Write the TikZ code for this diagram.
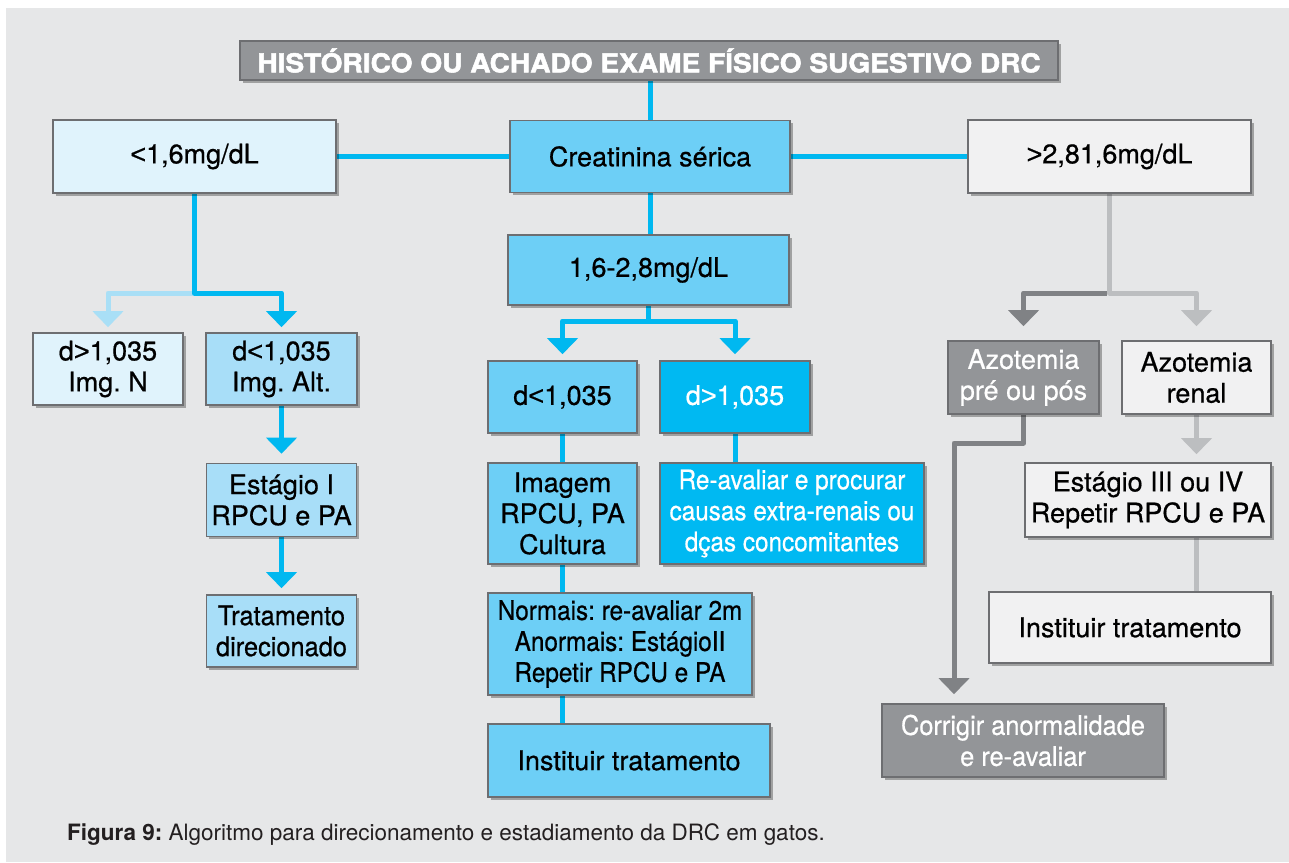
\documentclass[tikz,border=0pt]{standalone}
\usepackage{fontspec}
\setmainfont{TeX Gyre Heros}[FakeBold=0.6]
\newfontfamily\narrowA[FakeStretch=0.9,FakeBold=0.6]{TeX Gyre Heros}
\newfontfamily\narrowB[FakeStretch=0.94,FakeBold=0.6]{TeX Gyre Heros}
\newfontfamily\titlef[FakeStretch=1.08,BoldFeatures={FakeBold=2}]{TeX Gyre Heros}
\newfontfamily\capfont{TeX Gyre Heros}
\newfontfamily\symfont[FakeBold=0.6]{Liberation Sans}
\newcommand\lessS{{\symfont <}}
\newcommand\moreS{{\symfont >}}
\frenchspacing
\usetikzlibrary{arrows.meta,shadows,calc}
\definecolor{bg}{HTML}{E6E7E8}
\definecolor{cyanl}{HTML}{00B8F0}
\definecolor{bluemid}{HTML}{6DCFF6}
\definecolor{bluestrong}{HTML}{00B9F2}
\definecolor{bluepale}{HTML}{E0F3FC}
\definecolor{bluelight}{HTML}{A8DEF8}
\definecolor{bluearrow}{HTML}{A9DFF6}
\definecolor{greydark}{HTML}{939598}
\definecolor{greylight}{HTML}{F1F1F2}
\definecolor{lined}{HTML}{808285}
\definecolor{linel}{HTML}{BCBEC0}
\definecolor{border}{HTML}{6D6E71}
\definecolor{capcol}{HTML}{231F20}
\pgfdeclarelayer{back}
\pgfdeclarelayer{lines}
\pgfsetlayers{back,lines,main}
\begin{document}
\frenchspacing
\begin{tikzpicture}[x=1pt,y=-1pt,
  box/.style={draw=border, line width=1.6pt, inner sep=0pt, align=center,
    font=\fontsize{27}{31}\selectfont\frenchspacing, text=black,
    drop shadow={shadow xshift=2.5pt,shadow yshift=-2.5pt,opacity=0.3,fill=black}},
  cl/.style={draw=cyanl, line width=5pt, line join=round},
  cll/.style={draw=bluearrow, line width=5pt, line join=round},
  gd/.style={draw=lined, line width=5pt, line join=round},
  gl/.style={draw=linel, line width=5pt, line join=round},
  tip/.style={-{Triangle[width=30pt,length=16pt]}}]
\useasboundingbox (0,0) rectangle (1289,862);
\begin{pgfonlayer}{back}
\fill[white] (0,0) rectangle (1289,862);
\fill[bg] (6,8) rectangle (1289,862);
\end{pgfonlayer}
% title
\node[box, fill=greydark, minimum width=818pt, minimum height=39pt, text=white,
  font=\fontsize{26}{30}\selectfont] (title) at (649,60.5)
  {\titlef\bfseries HISTÓRICO OU ACHADO EXAME FÍSICO SUGESTIVO DRC};
% first row
\node[box, fill=bluepale, minimum width=283pt, minimum height=73pt] (lt) at (194.5,156.5) {\lessS1,6mg/dL};
\node[box, fill=bluemid, minimum width=280pt, minimum height=72pt] (cr) at (650,156.5) {Creatinina sérica};
\node[box, fill=greylight, minimum width=283pt, minimum height=73pt] (rt) at (1109.5,156.5) {\moreS2,81,6mg/dL};
% left column
\node[box, fill=bluepale, minimum width=150pt, minimum height=72pt] (dl1) at (108,369) {d\moreS1,035\\Img. N};
\node[box, fill=bluelight, minimum width=151pt, minimum height=72pt] (dl2) at (281.5,369) {d\lessS1,035\\Img. Alt.};
\node[box, fill=bluelight, minimum width=150pt, minimum height=73pt] (est1) at (281.5,500) {Estágio I\\RPCU e PA};
\node[box, fill=bluelight, minimum width=150pt, minimum height=72pt] (trat) at (281.5,631) {\narrowB Tratamento\\\narrowB direcionado};
% centre column
\node[box, fill=bluemid, minimum width=281pt, minimum height=70pt] (mid) at (648.5,270) {1,6-2,8mg/dL};
\node[box, fill=bluemid, minimum width=149pt, minimum height=72pt] (dm1) at (562.5,397) {d\lessS1,035};
\node[box, fill=bluestrong, minimum width=150pt, minimum height=72pt, text=white] (dm2) at (735,397) {d\moreS1,035};
\node[box, fill=bluemid, minimum width=149pt, minimum height=101pt] (img) at (562.5,513.5) {Imagem\\RPCU, PA\\Cultura};
\node[box, fill=bluestrong, minimum width=264pt, minimum height=101pt, text=white] (rea) at (792,513.5)
  {\narrowA Re-avaliar e procurar\\\narrowA causas extra-renais ou\\\narrowA dças concomitantes};
\node[box, fill=bluemid, minimum width=264pt, minimum height=102pt] (norm) at (620,644)
  {\narrowA Normais: re-avaliar 2m\\\narrowA Anormais: EstágioII\\\narrowA Repetir RPCU e PA};
\node[box, fill=bluemid, minimum width=282pt, minimum height=73pt] (inst) at (629,760.5) {Instituir tratamento};
% right column
\node[box, fill=greydark, minimum width=151pt, minimum height=73pt, text=white] (azp) at (1023.5,377.5) {Azotemia\\pré ou pós};
\node[box, fill=greylight, minimum width=149pt, minimum height=73pt] (azr) at (1196.5,377.5) {Azotemia\\renal};
\node[box, fill=greylight, minimum width=246pt, minimum height=74pt] (est3) at (1148,500) {Estágio III ou IV\\Repetir RPCU e PA};
\node[box, fill=greylight, minimum width=282pt, minimum height=71pt] (inst2) at (1130,627.5) {Instituir tratamento};
\node[box, fill=greydark, minimum width=282pt, minimum height=73pt, text=white] (cor) at (1023,740.5)
  {\narrowB Corrigir anormalidade\\\narrowB e re-avaliar};
% caption
\node[anchor=base west, inner sep=0pt, text=capcol, font=\fontsize{22.5}{26}\selectfont] (cap) at (67,840)
  {\capfont\textbf{Figura 9:} Algoritmo para direcionamento e estadiamento da DRC em gatos.};
% connectors
\coordinate (yl) at (0,293);
\coordinate (ym) at (0,321);
\coordinate (ya) at (0,443);
\coordinate (xc) at (954,0);
\begin{pgfonlayer}{lines}
\draw[cl] (cr.north |- title.south) -- (cr.north);
\draw[cl] (lt.east) -- (cr.west);
\draw[cl] (cr.east) -- (rt.west);
\draw[cl] (cr.south) -- (cr.south |- mid.north);
% left
\draw[cll, tip, shorten >=5pt] (lt.south |- yl) -| (dl1.north);
\draw[cl, tip, shorten >=5pt] (lt.south) -- (lt.south |- yl) -| (dl2.north);
\draw[cl, tip, shorten >=9pt] (dl2.south) -- (est1.north);
\draw[cl, tip, shorten >=6pt] (est1.south) -- (trat.north);
% centre
\draw[cl, tip, shorten >=6pt] (mid.south) -- (mid.south |- ym) -| (dm1.north);
\draw[cl, tip, shorten >=6pt] (mid.south |- ym) -| (dm2.north);
\draw[cl] (dm1.south) -- (dm1.south |- img.north);
\draw[cl] (dm2.south) -- (dm2.south |- rea.north);
\draw[cl] (img.south) -- (img.south |- norm.north);
\draw[cl] (img.south |- norm.south) -- (img.south |- inst.north);
% right
\draw[gl, tip, shorten >=14pt] (rt.south) -- (rt.south |- yl) -| (azr.north);
\draw[gd, tip, shorten >=14pt] ([xshift=-2.5pt]rt.south |- yl) -| (azp.north);
\draw[gl, tip, shorten >=8pt] (azr.south) -- (azr.south |- est3.north);
\draw[gl] (azr.south |- est3.south) -- (azr.south |- inst2.north);
\draw[gd, tip, shorten >=9pt] (azp.south) -- (azp.south |- ya) -- (xc |- ya) -- (xc |- cor.north);
\end{pgfonlayer}
\end{tikzpicture}
\end{document}
